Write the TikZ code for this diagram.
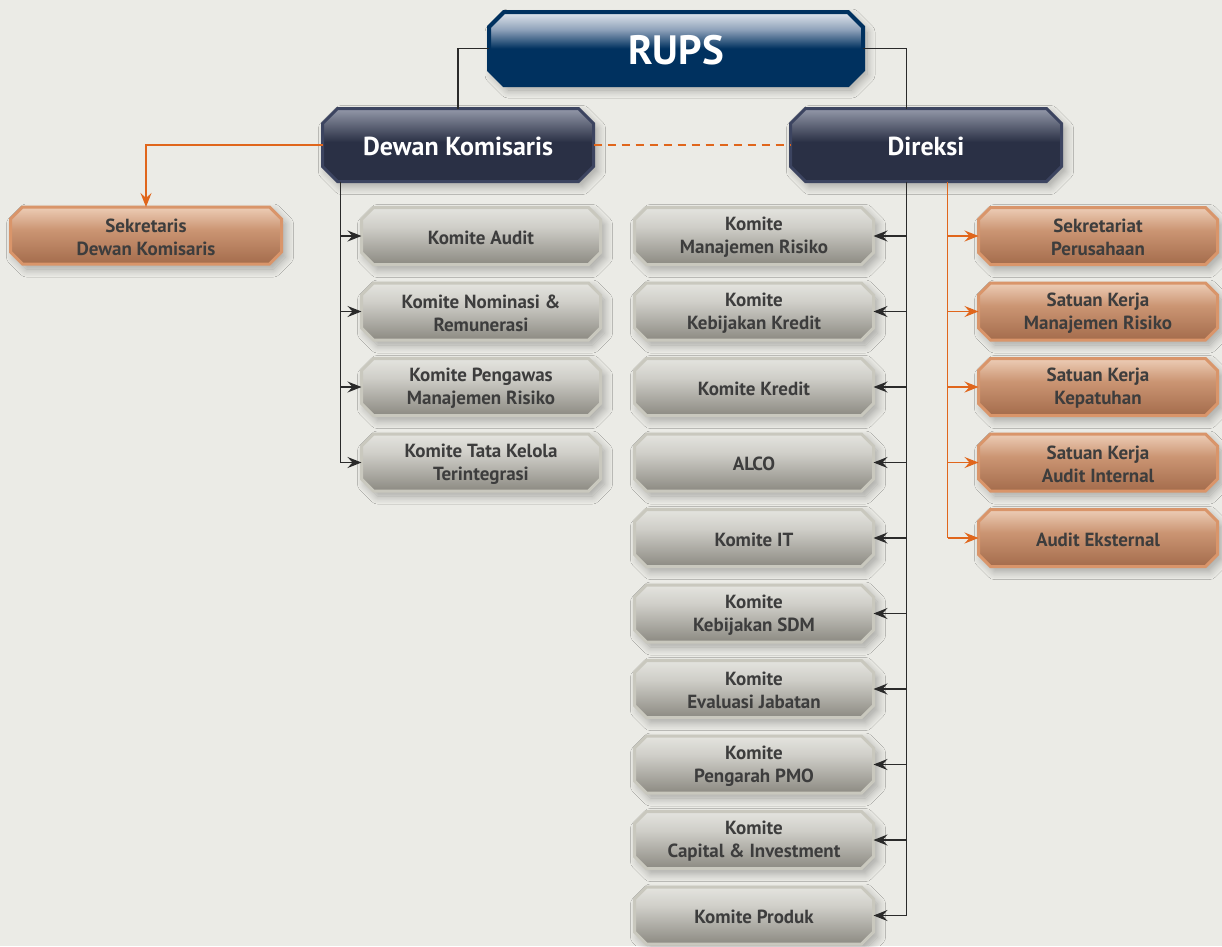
\documentclass[tikz,border=0pt]{standalone}
\usepackage{fontspec}
\setmainfont{PT Sans}
\usetikzlibrary{arrows.meta,shadows.blur}
\definecolor{bgc}{HTML}{EBEBE6}
\definecolor{rupsdark}{HTML}{00315F}
\definecolor{rupsmid}{HTML}{8FA2BA}
\definecolor{rupslight}{HTML}{E2E7EE}
\definecolor{headdark}{HTML}{2A3045}
\definecolor{headlight}{HTML}{9499AA}
\definecolor{headline}{HTML}{3C4460}
\definecolor{komtop}{HTML}{E4E4DF}
\definecolor{kommid}{HTML}{CFCEC8}
\definecolor{kombot}{HTML}{8C8A82}
\definecolor{komline}{HTML}{C9C8BE}
\definecolor{orgtop}{HTML}{EDCDB6}
\definecolor{orgmid}{HTML}{CB9573}
\definecolor{orgbot}{HTML}{A46C4C}
\definecolor{orgline}{HTML}{D9956A}
\definecolor{linkorange}{HTML}{E0661C}
\definecolor{linkblack}{HTML}{2A2A2A}
\definecolor{txtgrey}{HTML}{3D3D3D}
\pgfdeclareverticalshading{rupsshade}{100bp}{color(0bp)=(rupsdark); color(50bp)=(rupsdark);
  color(63bp)=(rupsmid); color(75bp)=(rupslight); color(100bp)=(rupslight)}
\pgfdeclareverticalshading{headshade}{100bp}{color(0bp)=(headdark); color(52bp)=(headdark);
  color(75bp)=(headlight); color(100bp)=(headlight)}
\pgfdeclareverticalshading{komshade}{100bp}{color(0bp)=(kombot); color(25bp)=(kombot);
  color(58bp)=(kommid); color(75bp)=(komtop); color(100bp)=(komtop)}
\pgfdeclareverticalshading{orgshade}{100bp}{color(0bp)=(orgbot); color(25bp)=(orgbot);
  color(55bp)=(orgmid); color(75bp)=(orgtop); color(100bp)=(orgtop)}
\newcommand{\fR}{\fontsize{41}{45}\selectfont\bfseries}
\newcommand{\fD}{\fontsize{26}{30}\selectfont\bfseries}
\newcommand{\fK}{\fontsize{19}{23}\selectfont\bfseries}
\tikzset{
  boxshadow/.style={blur shadow={shadow xshift=4pt,shadow yshift=-5pt,
    shadow blur radius=8pt,shadow blur steps=10,shadow opacity=30}},
  rupsnode/.style={minimum width=374pt,minimum height=73pt,inner sep=0pt,
    outer sep=0pt,text=white,font=\fR},
  rupsshape/.style={draw=rupsdark,line width=4pt,shade,shading=rupsshade,boxshadow},
  headnode/.style={rupsnode,minimum width=271pt,font=\fD},
  headshape/.style={draw=headline,line width=3pt,shade,shading=headshade,boxshadow},
  komnode/.style={minimum width=239pt,minimum height=57pt,inner sep=0pt,
    outer sep=0pt,text=txtgrey,align=center,font=\fK},
  komshape/.style={draw=komline,line width=3pt,shade,shading=komshade,boxshadow},
  orgnode/.style={komnode},
  orgshape/.style={komshape,draw=orgline,shading=orgshade},
  sekrnode/.style={komnode,minimum width=271pt},
  sekrshape/.style={orgshape}}
% box with chamfered corners: style prefix, name, position, chamfer, text
\newcommand{\chambox}[5]{%
  \node[#1node] (#2) at #3 {};
  \path[#1shape] ([xshift=#4]#2.north west) -- ([xshift=-#4]#2.north east)
    -- ([yshift=-#4]#2.north east) -- ([yshift=#4]#2.south east)
    -- ([xshift=-#4]#2.south east) -- ([xshift=#4]#2.south west)
    -- ([yshift=#4]#2.south west) -- ([yshift=-#4]#2.north west) -- cycle;
  \node[#1node,yshift=-1.5pt] at (#2) {#5};}

\begin{document}
\begin{tikzpicture}[x=1pt,y=-1pt,
    blk/.style={draw=linkblack,line width=1.3pt},
    arr/.style={blk,-{Stealth[length=14pt,width=11pt,inset=5pt]}},
    olnk/.style={draw=linkorange,line width=1.3pt},
    oarr/.style={olnk,-{Stealth[length=14pt,width=11pt,inset=5pt]}},
    odash/.style={olnk,dash pattern=on 8pt off 6pt}]
  \fill[bgc] (0,0) rectangle (1222,946);
  \path[use as bounding box] (0,0) rectangle (1222,946);

  % Top level
  \chambox{rups}{rups}{(676,48.5)}{15pt}{RUPS}
  \chambox{head}{dk}{(458,145)}{15pt}{Dewan Komisaris}
  \chambox{head}{dir}{(926,145)}{15pt}{Direksi}
  \chambox{sekr}{sdk}{(146,235.5)}{12pt}{Sekretaris\\Dewan Komisaris}

  % Komite of Dewan Komisaris
  \chambox{kom}{ka}{(481,236)}{12pt}{Komite Audit}
  \chambox{kom}{knr}{(481,311.5)}{12pt}{Komite Nominasi \&\\Remunerasi}
  \chambox{kom}{kpmr}{(481,387)}{12pt}{Komite Pengawas\\Manajemen Risiko}
  \chambox{kom}{ktk}{(481,462.5)}{12pt}{Komite Tata Kelola\\Terintegrasi}

  % Komite of Direksi
  \chambox{kom}{kmr}{(754,236)}{12pt}{Komite\\Manajemen Risiko}
  \chambox{kom}{kkk}{(754,311.5)}{12pt}{Komite\\Kebijakan Kredit}
  \chambox{kom}{kkr}{(754,387)}{12pt}{Komite Kredit}
  \chambox{kom}{alco}{(754,462.5)}{12pt}{ALCO}
  \chambox{kom}{kit}{(754,538)}{12pt}{Komite IT}
  \chambox{kom}{ksdm}{(754,613.5)}{12pt}{Komite\\Kebijakan SDM}
  \chambox{kom}{kej}{(754,689)}{12pt}{Komite\\Evaluasi Jabatan}
  \chambox{kom}{kpmo}{(754,764.5)}{12pt}{Komite\\Pengarah PMO}
  \chambox{kom}{kci}{(754,840)}{12pt}{Komite\\Capital \& Investment}
  \chambox{kom}{kpr}{(754,915.5)}{12pt}{Komite Produk}

  % Units under Direksi
  \chambox{org}{sp}{(1098,236)}{12pt}{Sekretariat\\Perusahaan}
  \chambox{org}{skmr}{(1098,311.5)}{12pt}{Satuan Kerja\\Manajemen Risiko}
  \chambox{org}{skk}{(1098,387)}{12pt}{Satuan Kerja\\Kepatuhan}
  \chambox{org}{skai}{(1098,462.5)}{12pt}{Satuan Kerja\\Audit Internal}
  \chambox{org}{ae}{(1098,538)}{12pt}{Audit Eksternal}

  % Bus lines
  \coordinate (dkbus) at ([xshift=18pt]dk.south west);
  \coordinate (dirbus) at ([xshift=116pt]dir.south west);
  \coordinate (orgbus) at ([xshift=157pt]dir.south west);

  % RUPS links
  \draw[blk] (rups.west) -| (dk.north);
  \draw[blk] (rups.east) -| (dirbus |- dir.north);
  \draw[odash] (dk.east) -- (dir.west);
  \draw[oarr] (dk.west) -| (sdk.north);

  % Dewan Komisaris links
  \draw[blk] (dkbus) -- (dkbus |- ktk.west);
  \draw[arr] (dkbus |- ka.west) -- (ka.west);
  \draw[arr] (dkbus |- knr.west) -- (knr.west);
  \draw[arr] (dkbus |- kpmr.west) -- (kpmr.west);
  \draw[arr] (dkbus |- ktk.west) -- (ktk.west);

  % Direksi links
  \draw[blk] (dirbus) -- (dirbus |- kpr.east);
  \draw[arr] (dirbus |- kmr.east) -- (kmr.east);
  \draw[arr] (dirbus |- kkk.east) -- (kkk.east);
  \draw[arr] (dirbus |- kkr.east) -- (kkr.east);
  \draw[arr] (dirbus |- alco.east) -- (alco.east);
  \draw[arr] (dirbus |- kit.east) -- (kit.east);
  \draw[arr] (dirbus |- ksdm.east) -- (ksdm.east);
  \draw[arr] (dirbus |- kej.east) -- (kej.east);
  \draw[arr] (dirbus |- kpmo.east) -- (kpmo.east);
  \draw[arr] (dirbus |- kci.east) -- (kci.east);
  \draw[arr] (dirbus |- kpr.east) -- (kpr.east);

  \draw[olnk] (orgbus) -- (orgbus |- ae.west);
  \draw[oarr] (orgbus |- sp.west) -- (sp.west);
  \draw[oarr] (orgbus |- skmr.west) -- (skmr.west);
  \draw[oarr] (orgbus |- skk.west) -- (skk.west);
  \draw[oarr] (orgbus |- skai.west) -- (skai.west);
  \draw[oarr] (orgbus |- ae.west) -- (ae.west);
\end{tikzpicture}
\end{document}
